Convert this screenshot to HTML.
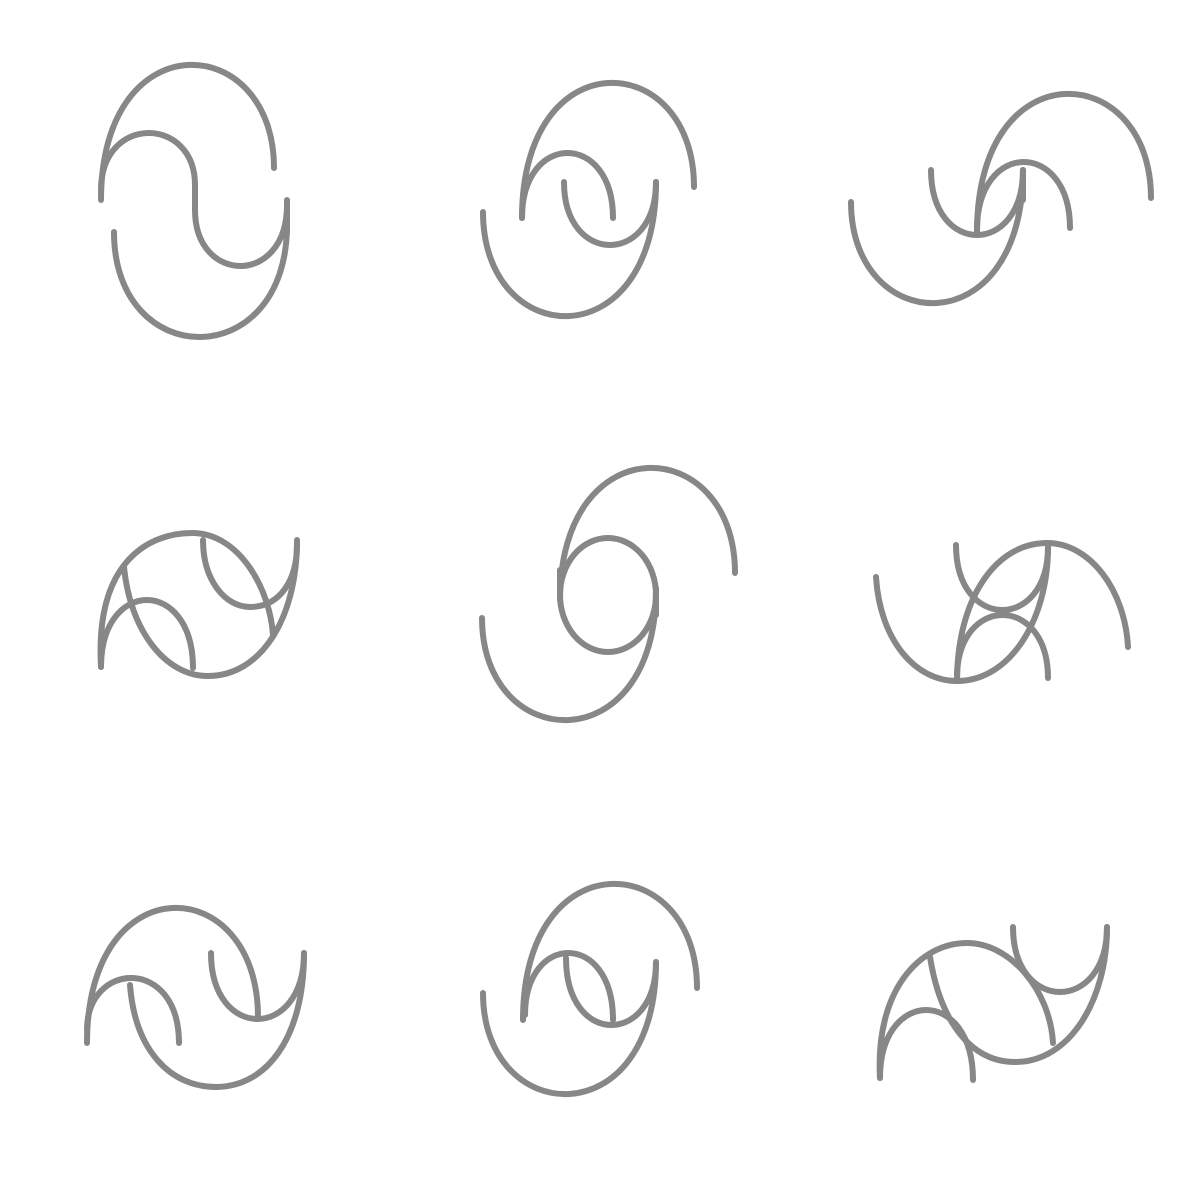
<!DOCTYPE html>
<html><head><meta charset="utf-8"><style>
html,body{margin:0;padding:0;background:#fff;width:1200px;height:1200px;overflow:hidden}
svg path,svg ellipse{fill:none;stroke:#878787;stroke-width:6;stroke-linecap:round;stroke-linejoin:round}
</style></head><body>
<svg id="s" width="1200" height="1200" viewBox="0 0 1200 1200" xmlns="http://www.w3.org/2000/svg"></svg>
<script>
function A(x1,y1,x2,y2,ye){return "M"+x1+","+y1+" C"+x1+","+(y1+(ye-y1)*4/3)+" "+x2+","+(y2+(ye-y2)*4/3)+" "+x2+","+y2;}
function L(x1,y1,x2,y2){return "M"+x1+","+y1+" L"+x2+","+y2;}
const shapes=[
 [A(101,200,274,168,65),A(101,190,195,185,133),L(195,185,195,210),A(195,210,287,205,266),L(287,200,287,232),A(114,232,287,225,337)],
 [A(522,218,694,187,83),A(522,218,613,218,153),A(564,182,656,182,245),A(483,212,656,182,316)],
 [A(977,232,1151,198,94),A(931,170,1023,170,235),A(977,230,1070,228,162),A(851,202,1023,170,303),L(1023,170,1023,200)],
 ["M101,667 C95,560 150,533 192,533 C240,533 270,590 273,635","M124,567 C130,630 165,676 208,676 C260,676 297,620 297,540","M203,540 C203,580 225,607 250,607 C280,607 297,580 297,545",A(101,667,193,668,600)],
 [A(560,600,735,573,468),"M560,595 A48,57 0 1 1 656,595 A48,57 0 1 1 560,595",L(560,570,560,600),L(656,588,656,615),A(482,618,656,590,720)],
 ["M876,577 C880,640 915,681 957,681 C1010,681 1048,620 1048,547","M957,681 C957,600 995,543 1047,543 C1090,543 1125,590 1128,647",A(956,545,1048,547,610),A(957,678,1048,678,615)],
 [A(87,1043,258,1017,908),A(87,1030,179,1043,978),"M130,985 C135,1050 170,1087 216,1087 C265,1087 304,1040 304,953",A(211,953,304,953,1019)],
 [A(523,1020,697,988,884),A(525,1015,613,1020,953),A(566,958,656,962,1025),A(483,993,656,962,1094)],
 ["M880,1078 C875,990 920,943 967,943 C1010,943 1050,990 1053,1043","M930,957 C940,1020 970,1062 1015,1062 C1070,1062 1107,1000 1107,927",A(1013,927,1107,927,992),A(880,1078,973,1080,1010)]
];
const svg=document.getElementById('s');
shapes.forEach(function(segs,i){
 const g=document.createElementNS('http://www.w3.org/2000/svg','g');
 
 
 segs.forEach(function(d){
  const p=document.createElementNS('http://www.w3.org/2000/svg','path');
  p.setAttribute('d',d);
  
  
  g.appendChild(p);
 });
 svg.appendChild(g);
});
</script>
</body></html>
